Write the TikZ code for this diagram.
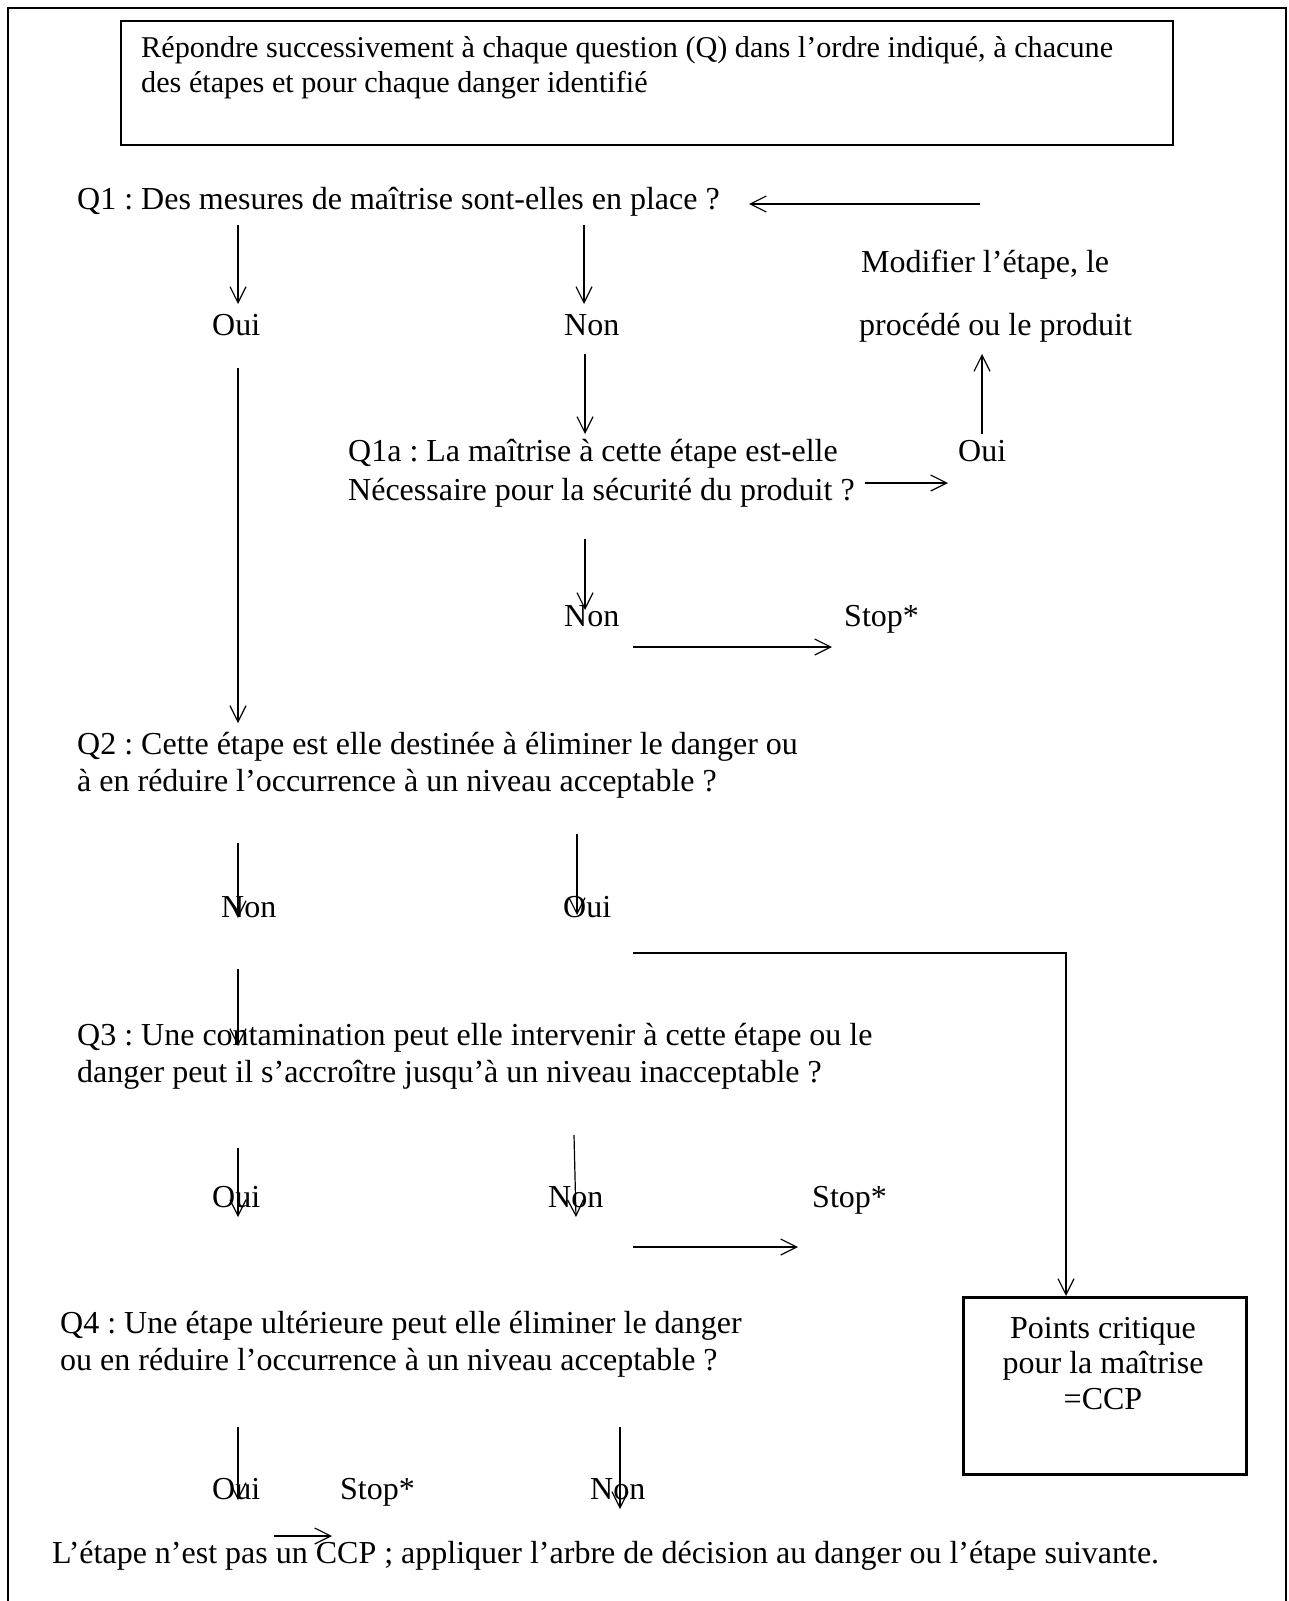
\documentclass[tikz,border=0pt]{standalone}
\usepackage{fontspec}
\setmainfont{Liberation Serif}
\usetikzlibrary{arrows.meta}
\frenchspacing
\begin{document}
\begin{tikzpicture}[x=1pt,y=-1pt,
  txt/.style={anchor=base west, inner sep=0pt, font=\fontsize{32}{36}\selectfont},
  smalltxt/.style={anchor=base west, inner sep=0pt, font=\fontsize{30.2}{35}\selectfont},
  ctxt/.style={anchor=base, inner sep=0pt, font=\fontsize{32}{36}\selectfont},
  conn/.style={line width=1.2pt, -{Straight Barb[length=16pt,width=16pt,line width=1.2pt]}},
  thick conn/.style={line width=1.8pt, -{Straight Barb[length=16pt,width=16pt,line width=1.2pt]}},
  frame/.style={line width=2pt}]
\useasboundingbox (0,0) rectangle (1289,1601);
% outer frame (open at the bottom)
\draw[frame] (8,1601) -- (8,8) -- (1286,8) -- (1286,1601);
% intro box
\node[draw, line width=2pt, anchor=north west, minimum width=1052pt, minimum height=124pt, inner sep=0pt] (intro) at (120,20) {};
\node[smalltxt] (introa) at (141,57) {Répondre successivement à chaque question (Q) dans l’ordre indiqué, à chacune};
\node[smalltxt] (introb) at (141,92) {des étapes et pour chaque danger identifié};
% Q1
\node[txt] (q1) at (77,209) {Q1 : Des mesures de maîtrise sont-elles en place ?};
\node[txt] (q1oui) at (212,335) {Oui};
\node[txt] (q1non) at (564,335) {Non};
\node[txt] (modA) at (861,272) {Modifier l’étape, le};
\node[txt] (modB) at (859,335) {procédé ou le produit};
% Q1a
\node[txt] (q1aA) at (348,461) {Q1a : La maîtrise à cette étape est-elle};
\node[txt] (q1aB) at (348,500) {Nécessaire pour la sécurité du produit ?};
\node[txt] (q1aoui) at (958,461) {Oui};
\node[txt] (q1anon) at (564,626) {Non};
\node[txt] (stopA) at (844,626) {Stop*};
% Q2
\node[txt] (q2A) at (77,754) {Q2 : Cette étape est elle destinée à éliminer le danger ou};
\node[txt] (q2B) at (77,791) {à en réduire l’occurrence à un niveau acceptable ?};
\node[txt] (q2non) at (221,917) {Non};
\node[txt] (q2oui) at (563,917) {Oui};
% Q3
\node[txt] (q3A) at (77,1045) {Q3 : Une contamination peut elle intervenir à cette étape ou le};
\node[txt] (q3B) at (77,1082) {danger peut il s’accroître jusqu’à un niveau inacceptable ?};
\node[txt] (q3oui) at (212,1207) {Oui};
\node[txt] (q3non) at (548,1207) {Non};
\node[txt] (stopB) at (812,1207) {Stop*};
% Q4
\node[txt] (q4A) at (60,1333) {Q4 : Une étape ultérieure peut elle éliminer le danger};
\node[txt] (q4B) at (60,1370) {ou en réduire l’occurrence à un niveau acceptable ?};
\node[txt] (q4oui) at (212,1499) {Oui};
\node[txt] (stopC) at (340,1499) {Stop*};
\node[txt] (q4non) at (590,1499) {Non};
\node[txt] (fin) at (52,1563) {L’étape n’est pas un CCP ; appliquer l’arbre de décision au danger ou l’étape suivante.};
% CCP box
\node[draw, line width=3pt, anchor=north west, minimum width=283pt, minimum height=177pt, inner sep=0pt] (ccp) at (962,1296) {};
\node[ctxt] (ccpA) at (1103,1338) {Points critique};
\node[ctxt] (ccpB) at (1103,1373) {pour la maîtrise};
\node[ctxt] (ccpC) at (1103,1409) {=CCP};
% connector end points
\coordinate (a1s) at (980,204);   \coordinate (a1e) at (749,204);
\coordinate (a2s) at (238,225);   \coordinate (a2e) at (238,304);
\coordinate (a3s) at (584,225);   \coordinate (a3e) at (584,304);
\coordinate (a4s) at (238,368);   \coordinate (a4e) at (238,723);
\coordinate (a5s) at (585,354);   \coordinate (a5e) at (585,434);
\coordinate (a6s) at (982,434);   \coordinate (a6e) at (982,354);
\coordinate (a7s) at (865,483);   \coordinate (a7e) at (948,483);
\coordinate (a8s) at (585,539);   \coordinate (a8e) at (585,610);
\coordinate (a9s) at (633,647);   \coordinate (a9e) at (832,647);
\coordinate (b1s) at (238,843);   \coordinate (b1e) at (238,918);
\coordinate (b2s) at (577,834);   \coordinate (b2e) at (577,915);
\coordinate (b3s) at (633,953);   \coordinate (b3m) at (1066,953);
\coordinate (b4s) at (238,969);   \coordinate (b4e) at (238,1046);
\coordinate (c1s) at (238,1148);  \coordinate (c1e) at (238,1217);
\coordinate (c2s) at (574,1135);  \coordinate (c2e) at (576,1217);
\coordinate (c3s) at (633,1247);  \coordinate (c3e) at (798,1247);
\coordinate (d1s) at (238,1427);  \coordinate (d1e) at (238,1500);
\coordinate (d2s) at (620,1427);  \coordinate (d2e) at (620,1509);
\coordinate (d3s) at (274,1536);  \coordinate (d3e) at (332,1536);
% connectors
\draw[conn] (a1s) -- (a1e);
\draw[conn] (a2s) -- (a2e);
\draw[conn] (a3s) -- (a3e);
\draw[conn] (a4s) -- (a4e);
\draw[conn] (a5s) -- (a5e);
\draw[conn] (a6s) -- (a6e);
\draw[conn] (a7s) -- (a7e);
\draw[conn] (a8s) -- (a8e);
\draw[thick conn] (a9s) -- (a9e);
\draw[conn] (b1s) -- (b1e);
\draw[conn] (b2s) -- (b2e);
\draw[conn] (b3s) -- (b3m) -- (b3m |- ccp.north);
\draw[conn] (b4s) -- (b4e);
\draw[conn] (c1s) -- (c1e);
\draw[conn] (c2s) -- (c2e);
\draw[thick conn] (c3s) -- (c3e);
\draw[conn] (d1s) -- (d1e);
\draw[conn] (d2s) -- (d2e);
\draw[conn] (d3s) -- (d3e);
\end{tikzpicture}
\end{document}
